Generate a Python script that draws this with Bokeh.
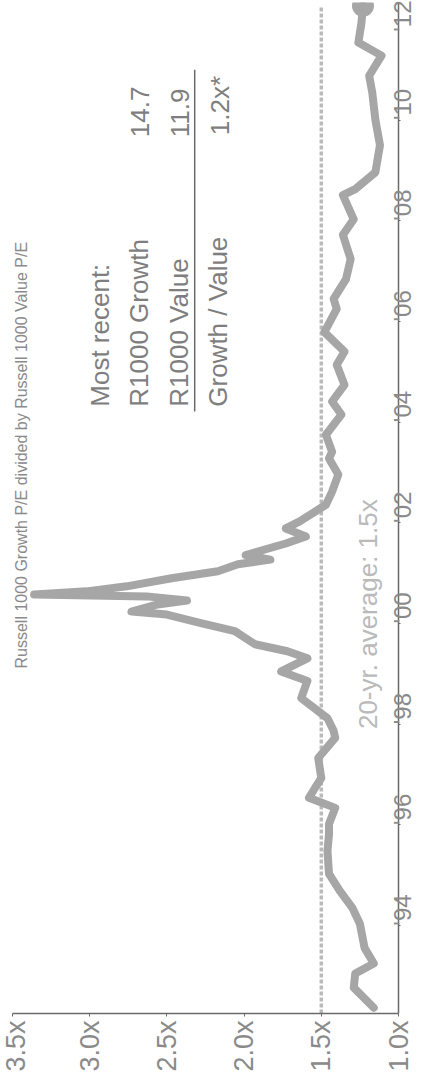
import math
from bokeh.plotting import figure
from bokeh.models import Range1d, FixedTicker, CustomJSTickFormatter, Label
from bokeh.embed import file_html
from bokeh.resources import INLINE

# ---- data ----
years = [1992.37, 1992.77, 1993.05, 1993.25, 1993.56, 1994.04, 1994.36, 1994.69,
         1995.03, 1995.49, 1995.82, 1996.02, 1996.34, 1996.54, 1996.74, 1996.93,
         1997.33, 1997.73, 1997.87, 1998.12, 1998.52, 1998.86, 1999.05, 1999.31,
         1999.45, 1999.59, 1999.85, 2000.01, 2000.18, 2000.24, 2000.38, 2000.46,
         2000.54, 2000.58, 2000.64, 2000.74, 2000.90, 2001.04, 2001.18, 2001.27,
         2001.36, 2001.59, 2001.73, 2001.89, 2002.03, 2002.36, 2002.62, 2002.96,
         2003.28, 2003.41, 2003.75, 2004.15, 2004.41, 2004.74, 2005.14, 2005.40,
         2005.79, 2006.25, 2006.45, 2006.84, 2007.24, 2007.72, 2008.03, 2008.51,
         2008.63, 2008.96, 2009.50, 2010.01, 2010.55, 2010.88, 2011.28, 2011.54,
         2011.93, 2012.27]
ratio = [1.16, 1.29, 1.28, 1.16, 1.22, 1.25, 1.30, 1.38,
         1.45, 1.46, 1.45, 1.45, 1.41, 1.58, 1.54, 1.50,
         1.52, 1.41, 1.42, 1.46, 1.63, 1.59, 1.76, 1.59,
         1.72, 1.93, 2.06, 2.28, 2.50, 2.73, 2.56, 2.37,
         2.63, 3.36, 3.02, 2.76, 2.47, 2.17, 2.04, 1.83,
         1.99, 1.73, 1.60, 1.73, 1.64, 1.47, 1.43, 1.39,
         1.45, 1.43, 1.47, 1.37, 1.43, 1.35, 1.40, 1.35,
         1.48, 1.40, 1.42, 1.34, 1.31, 1.36, 1.29, 1.36,
         1.28, 1.15, 1.12, 1.15, 1.17, 1.19, 1.11, 1.26,
         1.24, 1.23]
avg_ratio = 1.5

value_ticks = [1.0, 1.5, 2.0, 2.5, 3.0, 3.5]
value_tick_labels = ["1.0x", "1.5x", "2.0x", "2.5x", "3.0x", "3.5x"]
year_ticks = [1994, 1996, 1998, 2000, 2002, 2004, 2006, 2008, 2010, 2012]
year_tick_labels = ["'94", "'96", "'98", "'00", "'02", "'04", "'06", "'08", "'10", "'12"]

title_text = "Russell 1000 Growth P/E divided by Russell 1000 Value P/E"
recent_header = "Most recent:"
recent_names = ["R1000 Growth", "R1000 Value"]
recent_values = ["14.7", "11.9"]
ratio_name = "Growth / Value"
ratio_value = "1.2x*"
avg_text = "20-yr. average: 1.5x"

FONT = "Liberation Sans"
LINE_GRAY = "#a6a6a6"
AXIS_GRAY = "#6a6a6a"
TEXT_GRAY = "#7e7e7e"
TICK_GRAY = "#8a8a8a"
LIGHT_GRAY = "#bababa"

p = figure(width=432, height=1074,
           x_range=Range1d(value_ticks[-1], value_ticks[0]),
           y_range=Range1d(1992.256, 2012.335),
           y_axis_location="right",
           output_backend="svg", toolbar_location=None,
           min_border_left=12, min_border_right=32,
           min_border_top=2, min_border_bottom=59)
p.outline_line_color = None
p.grid.visible = False
p.background_fill_color = "white"
p.border_fill_color = "white"

xa = p.xaxis[0]
xa.ticker = FixedTicker(ticks=value_ticks)
xa.formatter = CustomJSTickFormatter(
    args=dict(vals=value_ticks, labs=value_tick_labels),
    code="const i = vals.findIndex(v => Math.abs(v - tick) < 1e-6); return i >= 0 ? labs[i] : '';")
ya = p.yaxis[0]
ya.ticker = FixedTicker(ticks=year_ticks)
ya.formatter = CustomJSTickFormatter(
    args=dict(vals=year_ticks, labs=year_tick_labels),
    code="const i = vals.findIndex(v => Math.abs(v - tick) < 1e-6); return i >= 0 ? labs[i] : '';")

for ax in (xa, ya):
    ax.major_label_orientation = math.pi / 2
    ax.axis_line_color = AXIS_GRAY
    ax.axis_line_width = 1.5
    ax.major_tick_line_color = AXIS_GRAY
    ax.major_tick_in = 0
    ax.minor_tick_line_color = None
    ax.major_label_text_font = FONT
    ax.major_label_text_color = TICK_GRAY

xa.major_tick_out = 3
xa.major_label_standoff = 4
xa.major_label_text_font_size = "27px"
ya.major_tick_out = 2
ya.major_label_standoff = 2
ya.major_label_text_font_size = "24px"

# average dashed line
p.line(x=[avg_ratio, avg_ratio], y=[p.y_range.start, years[-1]],
       line_color=LIGHT_GRAY, line_width=3.5, line_dash="4 2")

# series
p.line(x=ratio, y=years, line_color=LINE_GRAY, line_width=8,
       line_join="round", line_cap="round")
p.scatter(x=[ratio[-1]], y=[years[-1]], size=22, fill_color=LINE_GRAY,
          line_color=None)

def lab(x, y, text, color=TEXT_GRAY, align="left", size="26px"):
    p.add_layout(Label(x=x, y=y, text=text, angle=math.pi / 2,
                       text_align=align, text_baseline="alphabetic",
                       text_font=FONT, text_font_size=size, text_color=color))

# title at the left edge
lab(3.44, 2007.58, title_text, color=TICK_GRAY, align="right", size="16px")

# most-recent box
lab(2.933, 2004.307, recent_header)
lab(2.682, 2004.307, recent_names[0])
lab(2.424, 2004.307, recent_names[1])
lab(2.166, 2004.307, ratio_name)
lab(2.675, 2009.66, recent_values[0])
lab(2.418, 2009.66, recent_values[1])
lab(2.153, 2009.70, ratio_value)
p.segment(x0=[2.32], y0=[2004.21], x1=[2.32], y1=[2011.0],
          line_color=AXIS_GRAY, line_width=1.5)

# average label
lab(1.20, 1997.905, avg_text, color=LIGHT_GRAY)

open("out.html", "w").write(file_html(p, INLINE))
